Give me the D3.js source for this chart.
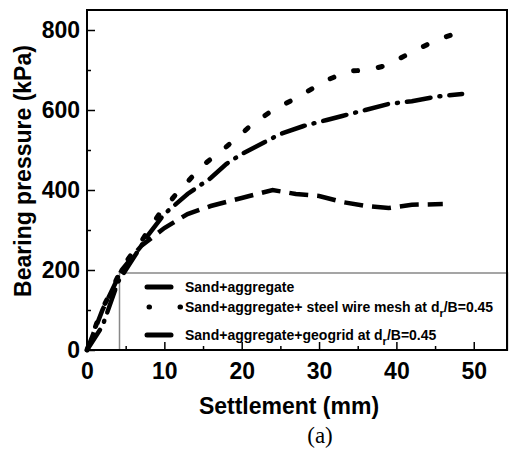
<!DOCTYPE html>
<html><head><meta charset="utf-8">
<script src="https://cdn.jsdelivr.net/npm/d3@7"></script>
<style>body{margin:0;background:#fff}svg{display:block}</style>
</head><body>
<svg id="c" width="509" height="450"></svg>
<script>
const xTicks = [0,10,20,30,40,50];
const yTicks = [0,200,400,600,800];
const seriesNames = ["Sand+aggregate","Sand+aggregate+ steel wire mesh at d","Sand+aggregate+geogrid at d"];
const sandX = [0,2,4.5,7,10,13,16,20,24,27,30,33,36,39,42,46];
const sandY = [0,100,200,260,305,340,360,380,400,390,385,370,360,355,363,365];
const steelX = [0,0.5,1.7,3,4.5,6,7,9.4,12,15,18,21,24,27.3,30.6,33.7,36.4,38.8,42.1,45.2,48.7];
const steelY = [0,25,92,142,205,246,271,342,400,462,508,558,600,632,671,697,700,712,746,775,798];
const geoX = [0,2,4,6,8,10,13,16,18,20,23,25,28,31,33,36,39,42,45,48.5];
const geoY = [0,60,170,230,290,340,390,430,465,490,520,540,560,575,585,600,615,622,633,640];

const svg = d3.select("#c");
const L=87, R=507, T=10, B=350;
const x = d3.scaleLinear().domain([0,54.3]).range([L,R]);
const y = d3.scaleLinear().domain([0,850]).range([B,T]);
const font = "'Liberation Sans', Arial, sans-serif";

const styles = [
  {dash:"19,9", cap:"butt", w:4.5},
  {dash:"4,21", cap:"round", w:5},
  {dash:"24,9,1,9", cap:"round", w:4.5}
];
const data = [[sandX,sandY],[steelX,steelY],[geoX,geoY]];
const line = d3.line().x(d=>x(d[0])).y(d=>y(d[1]));

const lg = svg.append("g");
lg.append("rect").attr("x",119.5).attr("y",273).attr("width",388).attr("height",77)
  .attr("fill","#fff").attr("stroke","#888").attr("stroke-width",1.5);

data.forEach((d,i)=>{
  const pts = d[0].map((v,j)=>[v,d[1][j]]);
  svg.append("path").attr("d",line(pts)).attr("fill","none").attr("stroke","#000")
    .attr("stroke-width",styles[i].w).attr("stroke-dasharray",styles[i].dash)
    .attr("stroke-linecap",styles[i].cap);
});

svg.append("rect").attr("x",L).attr("y",T).attr("width",R-L).attr("height",B-T)
  .attr("fill","none").attr("stroke","#000").attr("stroke-width",2);

const xAxis = d3.axisBottom(x).tickValues(xTicks).tickSizeInner(-8).tickSizeOuter(0).tickPadding(13);
const gx = svg.append("g").attr("transform",`translate(0,${B})`).call(xAxis);
gx.select(".domain").remove();
gx.selectAll("line").attr("stroke-width",1.5);
gx.selectAll("text").attr("font-family",font).attr("font-weight","bold").attr("font-size",23).attr("fill","#000");
const gxm = svg.append("g").attr("transform",`translate(0,${B})`)
  .call(d3.axisBottom(x).tickValues([5,15,25,35,45]).tickSizeInner(-4).tickSizeOuter(0).tickFormat(""));
gxm.select(".domain").remove(); gxm.selectAll("line").attr("stroke-width",1.5);

const yAxis = d3.axisLeft(y).tickValues(yTicks).tickSizeInner(-8).tickSizeOuter(0).tickPadding(7);
const gy = svg.append("g").attr("transform",`translate(${L},0)`).call(yAxis);
gy.select(".domain").remove();
gy.selectAll("line").attr("stroke-width",1.5);
gy.selectAll("text").attr("font-family",font).attr("font-weight","bold").attr("font-size",23).attr("fill","#000");
const gym = svg.append("g").attr("transform",`translate(${L},0)`)
  .call(d3.axisLeft(y).tickValues([100,300,500,700]).tickSizeInner(-4).tickSizeOuter(0).tickFormat(""));
gym.select(".domain").remove(); gym.selectAll("line").attr("stroke-width",1.5);

svg.append("text").attr("x",289).attr("y",414).attr("text-anchor","middle")
  .attr("font-family",font).attr("font-weight","bold").attr("font-size",23).text("Settlement (mm)");
svg.append("text").attr("transform","translate(31,171) rotate(-90)").attr("text-anchor","middle")
  .attr("font-family",font).attr("font-weight","bold").attr("font-size",23).text("Bearing pressure (kPa)");
svg.append("text").attr("x",320).attr("y",443).attr("text-anchor","middle")
  .attr("font-family","'Liberation Serif', 'Times New Roman', serif").attr("font-size",23).text("(a)");

const rows = [287, 307, 335];
rows.forEach((ry,i)=>{
  const s = styles[i];
  if(i===1){
    [149,180].forEach(px=>lg.append("line").attr("x1",px).attr("x2",px+0.5).attr("y1",ry).attr("y2",ry)
      .attr("stroke","#000").attr("stroke-width",5).attr("stroke-linecap","round"));
  } else {
    lg.append("line").attr("x1",147).attr("x2",171).attr("y1",ry).attr("y2",ry)
      .attr("stroke","#000").attr("stroke-width",s.w+0.5).attr("stroke-linecap","round");
  }
  const t = lg.append("text").attr("x",185).attr("y",ry+5).attr("font-family",font)
    .attr("font-weight","bold").attr("font-size",14).text(seriesNames[i]);
  if(i>0){
    t.append("tspan").attr("font-size",11).attr("dy",5).text("r");
    t.append("tspan").attr("dy",-5).text("/B=0.45");
  }
});
</script>
</body></html>
